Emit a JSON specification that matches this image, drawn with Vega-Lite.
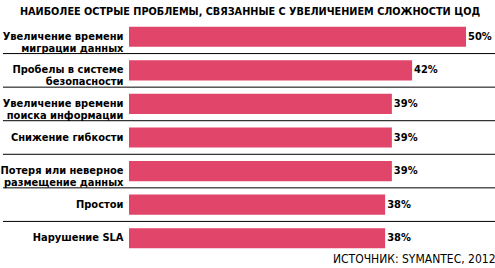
{
  "$schema": "https://vega.github.io/schema/vega-lite/v6.json",
  "autosize": {"type": "none"},
  "padding": {"left": 129, "top": 20, "right": 0, "bottom": 13},
  "width": 366,
  "height": 235,
  "background": "white",
  "config": {"view": {"stroke": null}, "font": "DejaVu Sans Condensed"},
  "title": {
    "text": "НАИБОЛЕЕ ОСТРЫЕ ПРОБЛЕМЫ, СВЯЗАННЫЕ С УВЕЛИЧЕНИЕМ СЛОЖНОСТИ ЦОД",
    "anchor": "middle",
    "frame": "group",
    "dx": -62,
    "offset": 3,
    "fontSize": 10.8,
    "fontWeight": "bold",
    "font": "DejaVu Sans Condensed",
    "color": "#000000"
  },
  "data": {
    "values": [
      {"cat": "Увеличение времени|миграции данных", "value": 50},
      {"cat": "Пробелы в системе|безопасности", "value": 42},
      {"cat": "Увеличение времени|поиска информации", "value": 39},
      {"cat": "Снижение гибкости", "value": 39},
      {"cat": "Потеря или неверное|размещение данных", "value": 39},
      {"cat": "Простои", "value": 38},
      {"cat": "Нарушение SLA", "value": 38}
    ]
  },
  "transform": [{"calculate": "datum.value + '%'", "as": "label"}],
  "encoding": {
    "y": {
      "field": "cat",
      "type": "nominal",
      "sort": null,
      "scale": {"paddingInner": 0, "paddingOuter": 0},
      "axis": {
        "title": null,
        "domain": false,
        "ticks": false,
        "labelPadding": 6,
        "labelExpr": "split(datum.label, '|')",
        "labelFont": "DejaVu Sans Condensed",
        "labelFontWeight": "bold",
        "labelFontSize": 11,
        "labelColor": "#000000",
        "labelLineHeight": 12,
        "labelLimit": 200
      }
    }
  },
  "layer": [
    {
      "transform": [{"filter": "datum.cat != 'Нарушение SLA'"}],
      "mark": {"type": "rule", "color": "#000000", "strokeWidth": 1},
      "encoding": {
        "y": {"field": "cat", "type": "nominal", "sort": null, "bandPosition": 1},
        "x": {"datum": -18.7, "type": "quantitative"},
        "x2": {"datum": 54.3}
      }
    },
    {
      "mark": {"type": "bar", "color": "#E2456A", "height": {"band": 0.6}},
      "encoding": {
        "x": {
          "field": "value",
          "type": "quantitative",
          "scale": {"domain": [0, 54.3], "nice": false},
          "axis": {
            "title": "ИСТОЧНИК: SYMANTEC, 2012",
            "titleAnchor": "end",
            "titleFont": "DejaVu Sans Condensed",
            "titleFontWeight": "normal",
            "titleFontSize": 12,
            "titleColor": "#000000",
            "titlePadding": -2,
            "labels": false,
            "ticks": false,
            "domain": false,
            "grid": false
          }
        }
      }
    },
    {
      "mark": {"type": "text", "align": "left", "dx": 2, "fontWeight": "bold", "fontSize": 11, "font": "DejaVu Sans Condensed", "color": "#000000"},
      "encoding": {
        "x": {"field": "value", "type": "quantitative"},
        "text": {"field": "label", "type": "nominal"}
      }
    }
  ]
}
